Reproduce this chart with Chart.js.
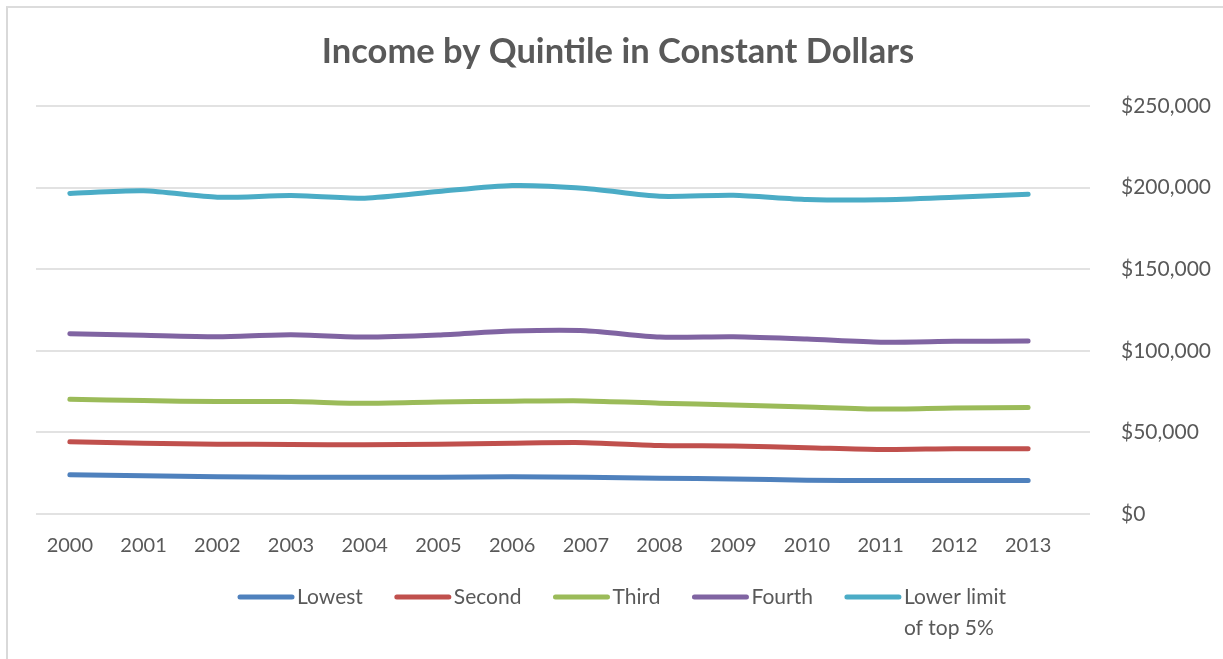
<!DOCTYPE html>
<html>
<head>
<meta charset="utf-8">
<script src="https://cdn.jsdelivr.net/npm/chart.js@4.4.1/dist/chart.umd.min.js"></script>
<style>
  html, body { margin: 0; padding: 0; background: #fff; }
  #wrap { position: relative; width: 1223px; height: 659px; overflow: hidden; }
  #frame { position: absolute; left: 6px; top: 6px; right: -10px; bottom: -10px;
           border-left: 2px solid #d9d9d9; border-top: 2px solid #dcdcdc; pointer-events: none; }
  canvas { position: absolute; left: 0; top: 0; }
</style>
</head>
<body>
<div id="wrap">
  <canvas id="c" width="1223" height="659"></canvas>
  <div id="frame"></div>
</div>
<script>
const chartTitle = "Income by Quintile in Constant Dollars";
const years = ["2000","2001","2002","2003","2004","2005","2006","2007","2008","2009","2010","2011","2012","2013"];
const lowest = [24000, 23400, 22800, 22500, 22500, 22500, 22900, 22500, 21900, 21500, 20700, 20500, 20500, 20500];
const second = [44300, 43400, 42800, 42600, 42400, 42800, 43400, 43700, 42000, 41600, 40600, 39500, 40000, 40000];
const third  = [70300, 69500, 68900, 68900, 67800, 68600, 69100, 69300, 67900, 66800, 65600, 64300, 65000, 65200];
const fourth = [110500, 109500, 108600, 109800, 108400, 109700, 112100, 112300, 108400, 108600, 107200, 105300, 105800, 106000];
const top5   = [196400, 198000, 194100, 195100, 193500, 197600, 201300, 199500, 194700, 195300, 192700, 192500, 194100, 196000];
const seriesNames = ["Lowest", "Second", "Third", "Fourth", "Lower limit\nof top 5%"];
const seriesColors = ["#4F81BD", "#C0504D", "#9BBB59", "#8064A2", "#4BACC6"];
const yTicks = [0, 50000, 100000, 150000, 200000, 250000];

const FONT = "Lato, 'Open Sans', sans-serif";
const TEXT = "#595959";

const seriesData = [lowest, second, third, fourth, top5];
const datasets = seriesData.map((d, i) => ({
  label: seriesNames[i],
  data: d,
  borderColor: seriesColors[i],
  backgroundColor: seriesColors[i],
  borderWidth: 5,
  pointRadius: 0,
  pointHoverRadius: 0,
  tension: 0.25,
  borderCapStyle: 'round',
  borderJoinStyle: 'round',
  fill: false
}));

const decor = {
  id: 'decor',
  beforeDatasetsDraw(chart) {
    const ctx = chart.ctx;
    const ys = chart.scales.y;
    ctx.save();
    ctx.strokeStyle = '#d9d9d9';
    ctx.lineWidth = 1.6;
    ys.ticks.forEach(t => {
      const y = Math.round(ys.getPixelForValue(t.value));
      ctx.beginPath();
      ctx.moveTo(36, y);
      ctx.lineTo(1090, y);
      ctx.stroke();
    });
    ctx.restore();
  },
  afterDraw(chart) {
    const ctx = chart.ctx;
    ctx.save();
    // title
    ctx.fillStyle = TEXT;
    ctx.font = "bold 34.5px " + FONT;
    ctx.textAlign = 'center';
    ctx.textBaseline = 'middle';
    ctx.fillText(chartTitle, 618, 52);
    // legend
    ctx.font = "21px " + FONT;
    ctx.textAlign = 'left';
    const lineLen = 56, gap = 3, itemGap = 32;
    const items = chart.data.datasets.map(ds => {
      const lines = ds.label.split("\n");
      const w = Math.max(...lines.map(l => ctx.measureText(l).width));
      return { lines, w, color: ds.borderColor };
    });
    const total = items.reduce((s, it) => s + lineLen + gap + it.w, 0) + itemGap * (items.length - 1);
    let x = 622 - total / 2;
    const ly = 597;
    items.forEach(it => {
      ctx.strokeStyle = it.color;
      ctx.lineWidth = 5;
      ctx.lineCap = 'round';
      ctx.beginPath();
      ctx.moveTo(x + 2, ly);
      ctx.lineTo(x + lineLen - 2, ly);
      ctx.stroke();
      ctx.fillStyle = TEXT;
      it.lines.forEach((l, k) => ctx.fillText(l, x + lineLen + gap, ly + k * 31));
      x += lineLen + gap + it.w + itemGap;
    });
    ctx.restore();
  }
};

new Chart(document.getElementById('c'), {
  type: 'line',
  data: { labels: years, datasets },
  options: {
    responsive: false,
    animation: false,
    events: [],
    layout: { padding: { left: 33, right: 0, top: 106, bottom: 81 } },
    plugins: {
      legend: { display: false },
      title: { display: false },
      tooltip: { enabled: false }
    },
    scales: {
      x: {
        offset: true,
        grid: { display: false, drawTicks: false },
        border: { display: false },
        ticks: { color: TEXT, font: { family: FONT, size: 20 }, padding: 20, maxRotation: 0, autoSkip: false }
      },
      y: {
        position: 'right',
        min: 0,
        max: 250000,
        afterBuildTicks(scale) { scale.ticks = yTicks.map(v => ({ value: v })); },
        afterFit(scale) { scale.width = 158; },
        grid: { display: false, drawTicks: false },
        border: { display: false },
        ticks: {
          color: TEXT,
          font: { family: FONT, size: 21 },
          padding: 56,
          callback: v => '$' + Number(v).toLocaleString('en-US')
        }
      }
    }
  },
  plugins: [decor]
});
</script>
</body>
</html>
